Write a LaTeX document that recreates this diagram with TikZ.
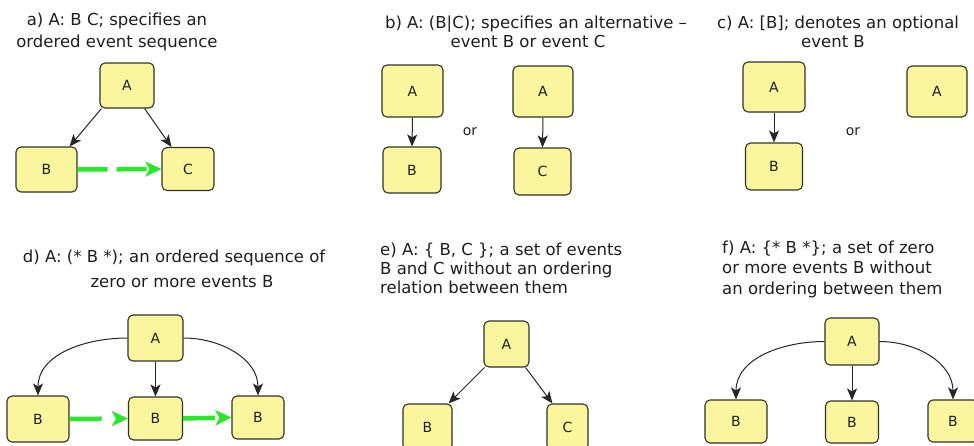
\documentclass[tikz,border=0pt]{standalone}
\usepackage{fontspec}
\setmainfont{DejaVu Sans}
\usetikzlibrary{arrows.meta}
\definecolor{boxfill}{RGB}{250,246,158}
\definecolor{boxline}{RGB}{50,50,40}
\definecolor{seqgreen}{RGB}{40,232,40}
\definecolor{txt}{RGB}{30,30,30}
\begin{document}
\begin{tikzpicture}[x=1pt,y=-1pt,
  ev/.style={draw=boxline,line width=1.1pt,fill=boxfill,rounded corners=5pt,inner sep=0pt,
     font=\fontsize{14}{16}\selectfont,text=txt},
  ttl/.style={font=\fontsize{16.5}{20}\selectfont,text=txt,inner sep=0pt,anchor=base},
  ttll/.style={font=\fontsize{16.5}{20}\selectfont,text=txt,inner sep=0pt,anchor=base west},
  ortext/.style={font=\fontsize{14}{16}\selectfont,text=txt,inner sep=0pt},
  arr/.style={-{Stealth[length=12pt,width=10pt,inset=3pt]},line width=1pt,draw=black!85},
  seq/.style={-{Stealth[length=16pt,width=15pt,inset=4pt]},line width=4.5pt,draw=seqgreen,
     dash pattern=on 30pt off 9pt},
  seqd/.style={seq,dash pattern=on 32pt off 40pt}]
\useasboundingbox (0,0) rectangle (974,445);
\fill[white] (0,0) rectangle (974,445);

% ---- a ----
\node[ttl] (ta1) at (117,25) {a) A: B C; specifies an};
\node[ttl] (ta2) at (117,47) {ordered event sequence};
\node[ev,minimum width=54pt,minimum height=45pt] (aA) at (127,85.5) {A};
\node[ev,minimum width=61pt,minimum height=45pt] (aB) at (46.5,169.5) {B};
\node[ev,minimum width=52pt,minimum height=43pt] (aC) at (188,169) {C};
\draw[arr] ([xshift=2pt]aA.south west) -- ([xshift=-8pt]aB.north east);
\draw[arr] ([xshift=-10pt]aA.south east) -- ([xshift=10pt]aC.north west);
\draw[seq] (aB.east) -- (aC.west);

% ---- b ----
\node[ttl] (tb1) at (536,28) {b) A: (B|C); specifies an alternative –};
\node[ttl] (tb2) at (528,47) {event B or event C};
\node[ev,minimum width=61pt,minimum height=52pt] (bA1) at (412.5,91) {A};
\node[ev,minimum width=58pt,minimum height=46pt] (bB1) at (412,170) {B};
\node[ev,minimum width=60pt,minimum height=51pt] (bA2) at (543,91.5) {A};
\node[ev,minimum width=57pt,minimum height=47pt] (bC2) at (542.5,171.5) {C};
\node[ortext] (bor) at (470,132) {or};
\draw[arr] (bA1.south) -- (bB1.north);
\draw[arr] (bA2.south) -- (bC2.north);

% ---- c ----
\node[ttl] (tc1) at (838,28) {c) A: [B]; denotes an optional};
\node[ttl] (tc2) at (833,47) {event B};
\node[ev,minimum width=62pt,minimum height=50pt] (cA) at (774,87) {A};
\node[ev,minimum width=57pt,minimum height=47pt] (cB) at (774,166.5) {B};
\node[ev,minimum width=60pt,minimum height=51pt] (cA2) at (937,91.5) {A};
\node[ortext] (cor) at (853,132) {or};
\draw[arr] (cA.south) -- (cB.north);

% ---- d ----
\node[ttl] (td1) at (174,262) {d)\,\,A: (* B *);\,\,an ordered sequence of};
\node[ttl] (td2) at (182,287) {zero or more events B};
\node[ev,minimum width=55pt,minimum height=46pt] (dA) at (155.5,338) {A};
\node[ev,minimum width=62pt,minimum height=46pt] (dB1) at (38,419) {B};
\node[ev,minimum width=54pt,minimum height=43pt] (dB2) at (155.5,418.5) {B};
\node[ev,minimum width=52pt,minimum height=43pt] (dB3) at (258,417.5) {B};
\draw[arr] (dA.west) to[out=180,in=90] (dB1.north);
\draw[arr] (dA.south) -- (dB2.north);
\draw[arr] (dA.east) to[out=0,in=90] (dB3.north);
\draw[seqd] (dB1.east) -- (dB2.west);
\draw[seqd] (dB2.east) -- (dB3.west);

% ---- e ----
\node[ttll] (te1) at (380,255) {e) A: \{ B, C \};\,\,a set of events};
\node[ttll] (te2) at (380,274) {B and C without an ordering};
\node[ttll] (te3) at (380,293) {relation between them};
\node[ev,minimum width=45pt,minimum height=46pt] (eA) at (506.5,344) {A};
\node[ev,minimum width=49pt,minimum height=46pt] (eB) at (427.5,427) {B};
\node[ev,minimum width=41pt,minimum height=46pt] (eC) at (567.5,427) {C};
\draw[arr] ([xshift=1pt]eA.south west) -- ([xshift=-4pt]eB.north east);
\draw[arr] ([xshift=-4pt]eA.south east) -- ([xshift=6pt]eC.north west);

% ---- f ----
\node[ttll] (tf1) at (722,253) {f)\,\,A: \{* B *\};\,\,a set of zero};
\node[ttll] (tf2) at (722,273) {or more events B without};
\node[ttll] (tf3) at (722,294) {an ordering between them};
\node[ev,minimum width=54pt,minimum height=47pt] (fA) at (852,341.5) {A};
\node[ev,minimum width=62pt,minimum height=43pt] (fB1) at (736,421.5) {B};
\node[ev,minimum width=53pt,minimum height=42pt] (fB2) at (852,422) {B};
\node[ev,minimum width=50pt,minimum height=42pt] (fB3) at (953,421) {B};
\draw[arr] (fA.west) to[out=180,in=90] (fB1.north);
\draw[arr] (fA.south) -- (fB2.north);
\draw[arr] (fA.east) to[out=0,in=90] (fB3.north);
\end{tikzpicture}
\end{document}
